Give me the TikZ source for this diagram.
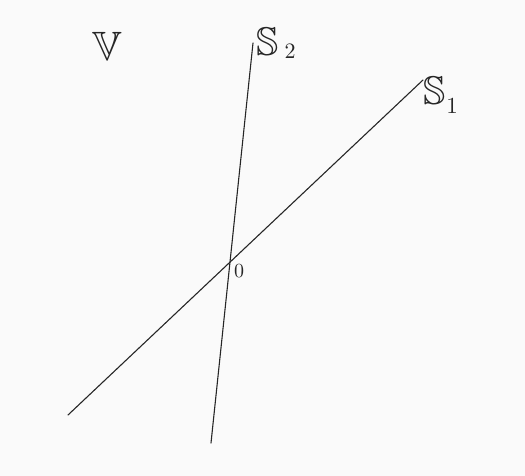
\documentclass[tikz,border=0pt]{standalone}
\usepackage{amssymb}
\begin{document}
\begin{tikzpicture}[x=1pt,y=-1pt,
  ln/.style={line width=1.1pt,black!85,line cap=round},
  lbl/.style={inner sep=0pt,text=black!85}]
\fill[white!98!black] (0,0) rectangle (525,476);
\useasboundingbox (0,0) rectangle (525,476);
\coordinate (a1) at (68,415);
\coordinate (b1) at (423,80);
\coordinate (a2) at (211,443);
\coordinate (b2) at (253,43);
\draw[ln] (a1) -- (b1);
\draw[ln] (a2) -- (b2);
\node[lbl] (V) at (107,46) {\scalebox{4.1}{$\mathbb{V}$}};
\node[lbl] (S2) at (268,42) {\scalebox{4}{$\mathbb{S}$}};
\node[lbl] (S2i) at (290,51) {\scalebox{2.2}{$2$}};
\node[lbl] (S1) at (435,91) {\scalebox{4}{$\mathbb{S}$}};
\node[lbl] (S1i) at (452,106) {\scalebox{2.3}{$1$}};
\node[lbl] (O) at (239,271) {\scalebox{2}{$0$}};
\end{tikzpicture}
\end{document}
